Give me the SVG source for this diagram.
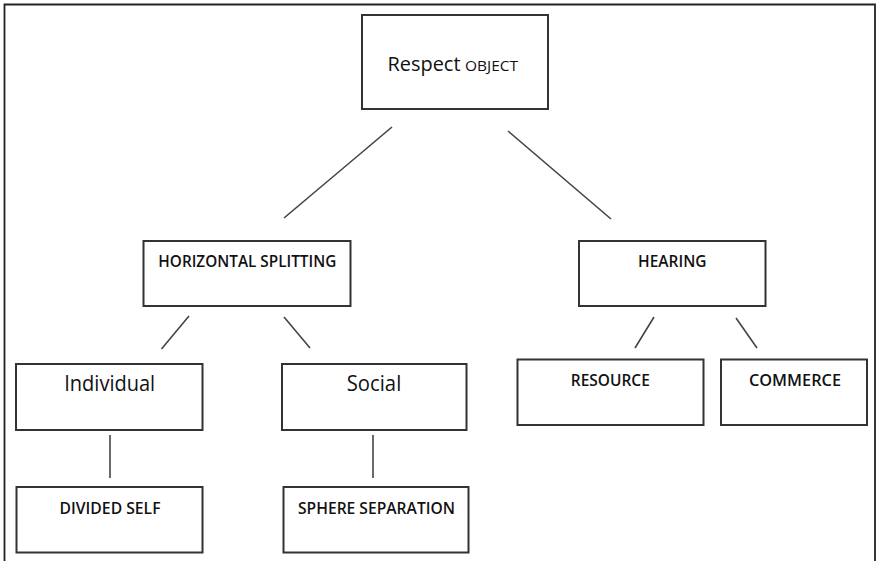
<svg xmlns="http://www.w3.org/2000/svg" width="877" height="561" viewBox="0 0 877 561">
<style>
.box{fill:#fff;stroke:#333;stroke-width:2}
.t{font-family:"Open Sans","Noto Sans","Liberation Sans",sans-serif;fill:#111;text-anchor:middle}
.s{font-size:15.5px;font-weight:600}
.l{font-size:21px;font-weight:500}
.c{stroke:#444;stroke-width:1.6;fill:none}
</style>
<rect width="877" height="561" fill="#fff"/>
<path d="M4.5,561 V4.5 H875 V561" fill="none" stroke="#222" stroke-width="1.8"/>
<g id="connectors">
<line class="c" x1="392" y1="127" x2="284" y2="218"/>
<line class="c" x1="508" y1="131" x2="611" y2="219"/>
<line class="c" x1="189" y1="316" x2="161.5" y2="349"/>
<line class="c" x1="284" y1="317" x2="310" y2="348"/>
<line class="c" x1="654" y1="317" x2="635" y2="348"/>
<line class="c" x1="736" y1="318" x2="757" y2="348"/>
<line class="c" x1="110" y1="435" x2="110" y2="478"/>
<line class="c" x1="373" y1="435" x2="373" y2="478"/>
</g>
<g id="respect">
<rect class="box" x="362" y="15" width="186" height="94"/>
<text class="t" y="71" style="font-size:20px;font-weight:500"><tspan x="424" textLength="73" lengthAdjust="spacingAndGlyphs">Respect</tspan><tspan x="491.5" style="font-size:15px" textLength="53" lengthAdjust="spacingAndGlyphs">OBJECT</tspan></text>
</g>
<g id="horizontal">
<rect class="box" x="143.5" y="241" width="207" height="65"/>
<text class="t s" x="247.3" y="267" textLength="178" lengthAdjust="spacingAndGlyphs">HORIZONTAL SPLITTING</text>
</g>
<g id="hearing">
<rect class="box" x="579" y="241" width="186.5" height="65"/>
<text class="t s" x="672.3" y="267" textLength="68.5" lengthAdjust="spacingAndGlyphs">HEARING</text>
</g>
<g id="individual">
<rect class="box" x="16" y="364" width="186.5" height="66"/>
<text class="t l" x="109.7" y="390.7" textLength="91" lengthAdjust="spacingAndGlyphs">Individual</text>
</g>
<g id="social">
<rect class="box" x="282" y="364" width="184.5" height="66"/>
<text class="t l" x="374" y="390.7" textLength="54.5" lengthAdjust="spacingAndGlyphs">Social</text>
</g>
<g id="resource">
<rect class="box" x="517.5" y="359.5" width="186" height="65.5"/>
<text class="t s" x="610.3" y="385.7" textLength="79" lengthAdjust="spacingAndGlyphs">RESOURCE</text>
</g>
<g id="commerce">
<rect class="box" x="721" y="359.5" width="146" height="65.5"/>
<text class="t s" x="795" y="385.7" textLength="92" lengthAdjust="spacingAndGlyphs">COMMERCE</text>
</g>
<g id="divided">
<rect class="box" x="16.5" y="487" width="186" height="65.5"/>
<text class="t s" x="110" y="514" textLength="101" lengthAdjust="spacingAndGlyphs">DIVIDED SELF</text>
</g>
<g id="sphere">
<rect class="box" x="283.5" y="487" width="185" height="65.5"/>
<text class="t s" x="376.5" y="514" textLength="157" lengthAdjust="spacingAndGlyphs">SPHERE SEPARATION</text>
</g>
</svg>
